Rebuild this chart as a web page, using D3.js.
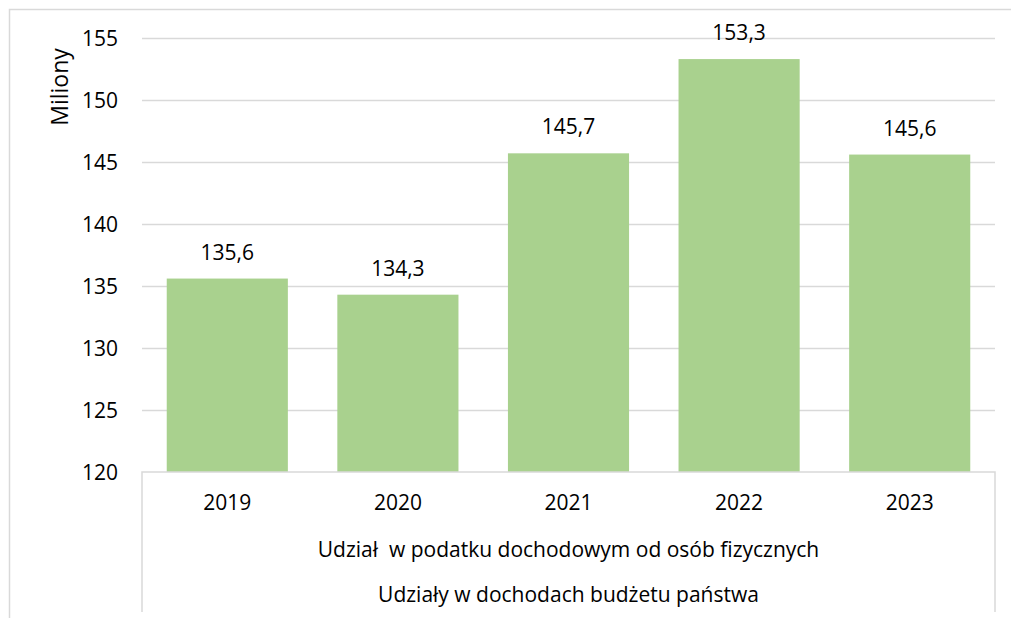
<!DOCTYPE html>
<html><head><meta charset="utf-8">
<script src="https://cdn.jsdelivr.net/npm/d3@7"></script>
<style>
html,body{margin:0;padding:0;background:#fff;}
svg text{font-family:"Open Sans",sans-serif;fill:#000;white-space:pre;}
</style></head>
<body><svg id="c" width="1011" height="618"></svg>
<script>
const categories = ["2019","2020","2021","2022","2023"];
const values = [135.6, 134.3, 145.7, 153.3, 145.6];
const valueLabels = ["135,6","134,3","145,7","153,3","145,6"];
const yTicks = [120,125,130,135,140,145,150,155];
const level2Label = "Udział  w podatku dochodowym od osób fizycznych";
const level3Label = "Udziały w dochodach budżetu państwa";
const yTitle = "Miliony";

(function(){
const svg = d3.select("#c");
const pL = 142, pR = 995, pT = 38, pB = 472;
const grid = "#d9d9d9";
const FS = 21, FF = "Open Sans, sans-serif";

svg.append("rect").attr("x",9.5).attr("y",9.5).attr("width",1020).attr("height",640)
  .attr("fill","none").attr("stroke",grid).attr("stroke-width",1.5);

const x = d3.scaleBand().domain(categories).range([pL,pR]).paddingInner(0.29).paddingOuter(0.145);
const y = d3.scaleLinear().domain([120,155]).range([pB,pT]);

svg.append("g").selectAll("line").data(yTicks.slice(1)).join("line")
  .attr("x1",pL).attr("x2",pR)
  .attr("y1",d=>Math.round(y(d))+0.5).attr("y2",d=>Math.round(y(d))+0.5)
  .attr("stroke",grid).attr("stroke-width",1.5);

const yAxis = d3.axisLeft(y).tickValues(yTicks).tickSize(0).tickPadding(0).tickFormat(d3.format("d"));
const gy = svg.append("g").attr("transform",`translate(118,0)`).call(yAxis);
gy.select(".domain").remove();
gy.selectAll("text").attr("font-size",FS).attr("font-family",FF).attr("fill","#000").attr("dy","0.36em");

svg.append("g").selectAll("rect").data(values).join("rect")
  .attr("x",(d,i)=>x(categories[i])).attr("width",x.bandwidth())
  .attr("y",d=>y(d)).attr("height",d=>pB-y(d))
  .attr("fill","#A9D18E");

svg.append("g").selectAll("text").data(values).join("text")
  .attr("x",(d,i)=>x(categories[i])+x.bandwidth()/2)
  .attr("y",d=>y(d)-19).attr("text-anchor","middle").attr("font-size",FS)
  .text((d,i)=>valueLabels[i]);

const ax = svg.append("g").attr("stroke",grid).attr("stroke-width",1.5).attr("fill","none");
ax.append("path").attr("d",`M${pL},612V${pB}H${pR}V612`);

const xAxis = d3.axisBottom(x).tickSize(0).tickPadding(0);
const gx = svg.append("g").attr("transform",`translate(0,${pB})`).call(xAxis);
gx.select(".domain").remove();
gx.selectAll("text").attr("font-size",FS).attr("font-family",FF).attr("fill","#000").attr("dy",null).attr("y",38);

svg.append("text").attr("x",(pL+pR)/2).attr("y",557).attr("text-anchor","middle").attr("font-size",FS).text(level2Label);
svg.append("text").attr("x",(pL+pR)/2).attr("y",602).attr("text-anchor","middle").attr("font-size",FS).text(level3Label);

svg.append("text").attr("transform",`translate(68,87) rotate(-90)`).attr("text-anchor","middle").attr("font-size",23).text(yTitle);
})();
</script></body></html>
